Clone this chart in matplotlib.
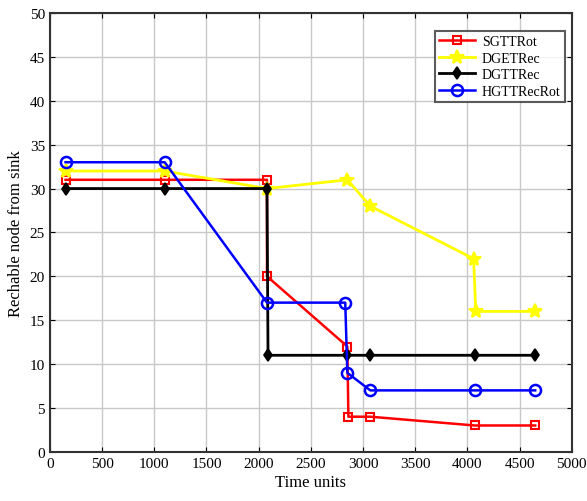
import matplotlib
matplotlib.use('Agg')
import matplotlib.pyplot as plt

plt.rcParams['font.family'] = ['Liberation Serif', 'DejaVu Serif']

# values
sg_x = [150, 1100, 2080, 2080, 2850, 2860, 3070, 4070, 4650]
sg_y = [31, 31, 31, 20, 12, 4, 4, 3, 3]

dge_x = [150, 1100, 2080, 2850, 3070, 4060, 4080, 4650]
dge_y = [32, 32, 30, 31, 28, 22, 16, 16]

dgt_x = [150, 1100, 2080, 2090, 2850, 3070, 4070, 4650]
dgt_y = [30, 30, 30, 11, 11, 11, 11, 11]

hg_x = [150, 1100, 2080, 2830, 2850, 3070, 4070, 4650]
hg_y = [33, 33, 17, 17, 9, 7, 7, 7]

fig = plt.figure(figsize=(5.87, 5.02), dpi=100)
ax = fig.add_axes([0.085, 0.098, 0.889, 0.874])

ax.plot(sg_x, sg_y, color='red', marker='s', mfc='none', ms=6, mew=1.5, lw=1.8, label='SGTTRot')
ax.plot(dge_x, dge_y, color='yellow', marker='*', ms=10, mew=1.5, lw=2, label='DGETRec')
ax.plot(dgt_x, dgt_y, color='black', marker='d', ms=6, mew=1.2, lw=2, label='DGTTRec')
ax.plot(hg_x, hg_y, color='blue', marker='o', mfc='none', ms=8, mew=1.8, lw=1.8, label='HGTTRecRot')

ax.set_xlim(0, 5000)
ax.set_ylim(0, 50)
ax.set_xticks(range(0, 5001, 500))
ax.set_yticks(range(0, 51, 5))
ax.grid(True, color='#c8c8c8', lw=1)
ax.tick_params(direction='in', labelsize=11, top=True, right=True)
for s in ax.spines.values():
    s.set_linewidth(1.5)
    s.set_color('#333333')

ax.set_xlabel('Time units', fontsize=12, labelpad=3)
ax.set_ylabel('Rechable node from sink', fontsize=12)

leg = ax.legend(loc='upper right', fontsize=10, fancybox=False, edgecolor='#333333',
                handlelength=2.6, borderpad=0.3, labelspacing=0.25, handletextpad=0.5,
                bbox_to_anchor=(1.0, 0.975))
leg.get_frame().set_linewidth(1.5)

fig.savefig('out.png', dpi=100)
